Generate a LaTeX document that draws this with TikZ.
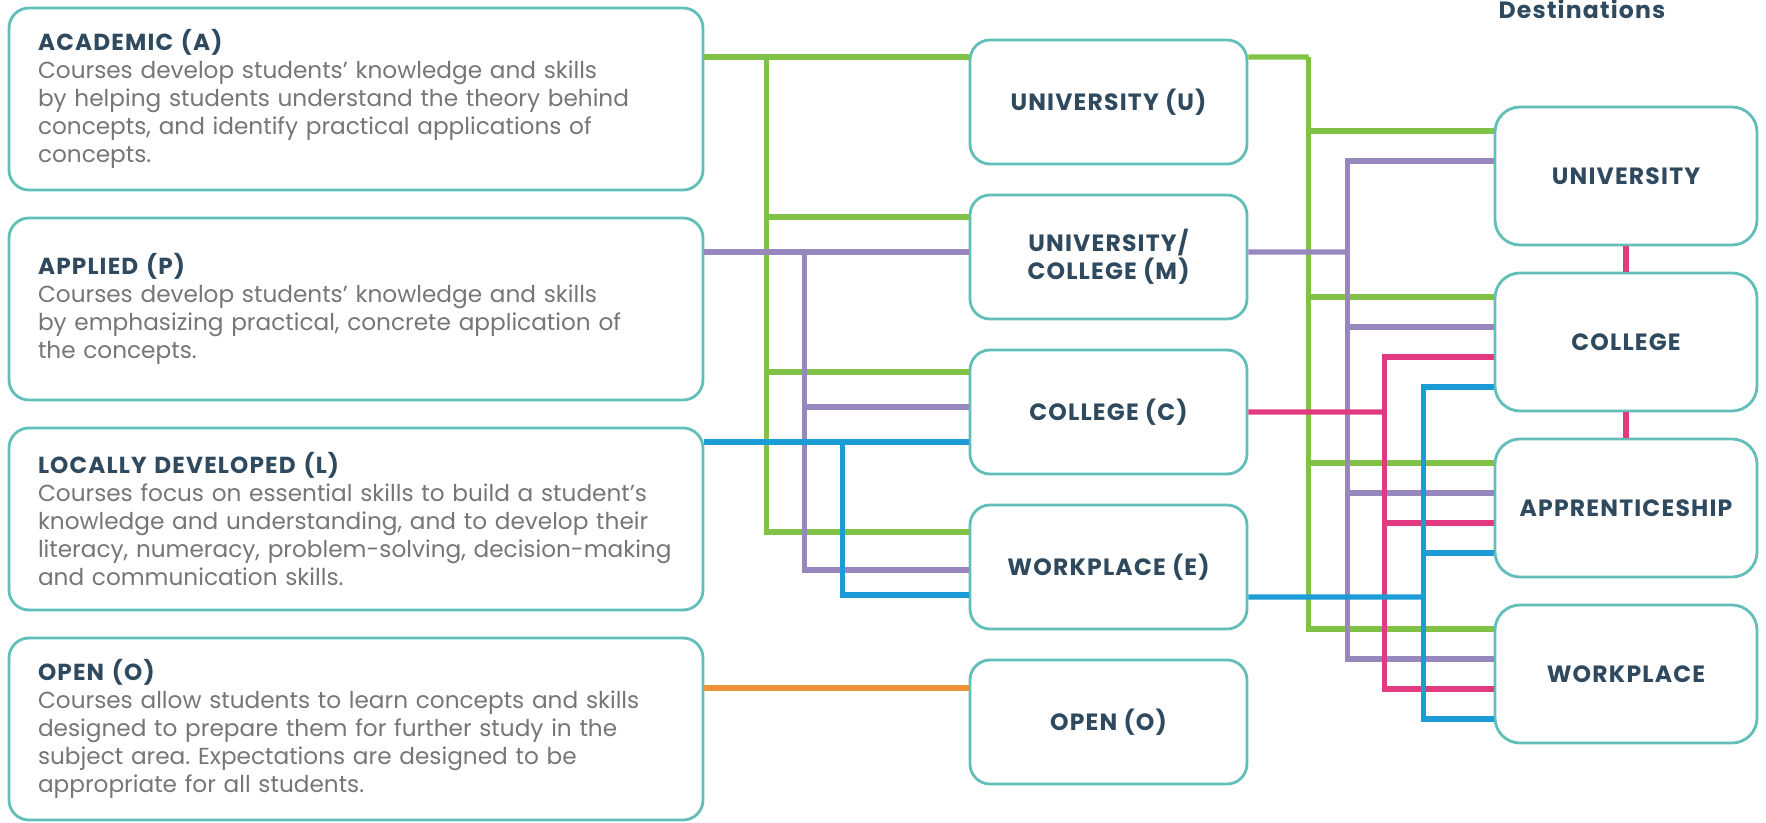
\documentclass[tikz,border=0pt]{standalone}
\usepackage{fontspec}
\setmainfont{Poppins}
\newfontfamily\labelfont{Poppins}[LetterSpace=5.0]
\usetikzlibrary{calc,positioning}
\frenchspacing
\definecolor{boxline}{RGB}{98,190,184}
\definecolor{headtext}{RGB}{47,74,94}
\definecolor{bodytext}{RGB}{118,118,120}
\definecolor{pathA}{RGB}{128,194,70}
\definecolor{pathP}{RGB}{152,134,190}
\definecolor{pathL}{RGB}{28,156,214}
\definecolor{pathC}{RGB}{226,58,128}
\definecolor{pathO}{RGB}{240,146,60}
\tikzset{
    course/.style = {draw=boxline, line width=.8pt, rounded corners=2mm, fill=white,
        minimum height=1.82cm, minimum width=6.94cm, text width=6.36cm, align=left,
        font=\fontsize{6.6}{8}\selectfont, text=bodytext},
    level/.style = {draw=boxline, line width=.8pt, rounded corners=2mm, fill=white,
        minimum height=1.24cm, minimum width=2.77cm, align=center,
        font=\labelfont\bfseries\fontsize{6.7}{8}\selectfont, text=headtext},
    dest/.style = {draw=boxline, line width=.8pt, rounded corners=2.5mm, fill=white,
        minimum height=1.38cm, minimum width=2.62cm, align=center,
        font=\labelfont\bfseries\fontsize{6.7}{8}\selectfont, text=headtext},
    link/.style = {line width=1.5pt}
}
\newcommand{\ctitle}[1]{{\labelfont\bfseries\color{headtext}#1}}

\begin{document}
\begin{tikzpicture}
        \useasboundingbox (0,0) rectangle (17.66,-8.23);
        % course types
        \node [course] (acad) at (3.56,-0.99) {\ctitle{ACADEMIC (A)}\\
            Courses develop students’ knowledge and skills\\
            by helping students understand the theory behind\\
            concepts, and identify practical applications of\\
            concepts.};
        \node [course, below of=acad, node distance=2.1cm] (appl) {\ctitle{APPLIED (P)}\\
            Courses develop students’ knowledge and skills\\
            by emphasizing practical, concrete application of\\
            the concepts.};
        \node [course, below of=appl, node distance=2.1cm] (ldev) {\ctitle{LOCALLY DEVELOPED (L)}\\
            Courses focus on essential skills to build a student’s\\
            knowledge and understanding, and to develop their\\
            literacy, numeracy, problem-solving, decision-making\\
            and communication skills.};
        \node [course, below of=ldev, node distance=2.1cm] (open) {\ctitle{OPEN (O)}\\
            Courses allow students to learn concepts and skills\\
            designed to prepare them for further study in the\\
            subject area. Expectations are designed to be\\
            appropriate for all students.};
        % course levels
        \node [level] (u) at (11.085,-1.02) {UNIVERSITY (U)};
        \node [level, below of=u, node distance=1.55cm] (m) {UNIVERSITY/\\COLLEGE (M)};
        \node [level, below of=m, node distance=1.55cm] (c) {COLLEGE (C)};
        \node [level, below of=c, node distance=1.55cm] (e) {WORKPLACE (E)};
        \node [level, below of=e, node distance=1.55cm] (o) {OPEN (O)};
        % destinations
        \node [anchor=base west, inner sep=0, font=\labelfont\bfseries\fontsize{6.7}{8}\selectfont, text=headtext] (dtitle) at (14.98,-0.19) {Destinations};
        \node [dest] (duni) at (16.26,-1.76) {UNIVERSITY};
        \node [dest, below of=duni, node distance=1.66cm] (dcol) {COLLEGE};
        \node [dest, below of=dcol, node distance=1.66cm] (dapp) {APPRENTICESHIP};
        \node [dest, below of=dapp, node distance=1.66cm] (dwork) {WORKPLACE};
        \draw [link, pathC] (duni) -- (dcol);
        \draw [link, pathC] (dcol) -- (dapp);
        % academic
        \coordinate (gin) at ([yshift=4.5mm]u.west);
        \coordinate (gL) at ($(acad.east |- gin)!.236!(gin)$);
        \draw [link, pathA] (acad.east |- gin) -- (gin);
        \draw [link, pathA] ([yshift=4mm]m.west) -| (gL);
        \draw [link, pathA] ([yshift=4mm]c.west) -| (gL);
        \draw [link, pathA] ([yshift=3.5mm]e.west) -| (gL);
        % applied
        \coordinate (pin) at ([yshift=.5mm]m.west);
        \coordinate (pL) at ($(appl.east |- pin)!.378!(pin)$);
        \draw [link, pathP] (appl.east |- pin) -- (pin);
        \draw [link, pathP] ([yshift=.5mm]c.west) -| (pL);
        \draw [link, pathP] ([yshift=-.3mm]e.west) -| (pL);
        % locally developed
        \coordinate (bin) at ([yshift=-3mm]c.west);
        \coordinate (bL) at ($(ldev.east |- bin)!.524!(bin)$);
        \draw [link, pathL] (ldev.east |- bin) -- (bin);
        \draw [link, pathL] ([yshift=-2.8mm]e.west) -| (bL);
        % open
        \coordinate (oin) at ([yshift=3.4mm]o.west);
        \draw [link, pathO] (open.east |- oin) -- (oin);
        % university (U) to destinations
        \coordinate (gout) at ([yshift=4.5mm]u.east);
        \coordinate (gR) at ($(gout)!.246!(duni.west |- gout)$);
        \draw [link, pathA] (gout) -- (gR);
        \draw [link, pathA] ([yshift=4.5mm]duni.west) -| (gR);
        \draw [link, pathA] ([yshift=4.5mm]dcol.west) -| (gR);
        \draw [link, pathA] ([yshift=4.5mm]dapp.west) -| (gR);
        \draw [link, pathA] ([yshift=4.5mm]dwork.west) -| (gR);
        % university/college (M)
        \coordinate (pout) at ([yshift=.5mm]m.east);
        \coordinate (pR) at ($(pout)!.403!(duni.west |- pout)$);
        \draw [link, pathP] (pout) -- (pR);
        \draw [link, pathP] ([yshift=1.5mm]duni.west) -| (pR);
        \draw [link, pathP] ([yshift=1.5mm]dcol.west) -| (pR);
        \draw [link, pathP] ([yshift=1.5mm]dapp.west) -| (pR);
        \draw [link, pathP] ([yshift=1.5mm]dwork.west) -| (pR);
        % college (C)
        \coordinate (kout) at (c.east);
        \coordinate (kR) at ($(kout)!.556!(duni.west |- kout)$);
        \draw [link, pathC] (kout) -- (kR);
        \draw [link, pathC] ([yshift=-1.5mm]dcol.west) -| (kR);
        \draw [link, pathC] ([yshift=-1.5mm]dapp.west) -| (kR);
        \draw [link, pathC] ([yshift=-1.5mm]dwork.west) -| (kR);
        % workplace (E)
        \coordinate (bout) at ([yshift=-3mm]e.east);
        \coordinate (bR) at ($(bout)!.714!(duni.west |- bout)$);
        \draw [link, pathL] (bout) -- (bR);
        \draw [link, pathL] ([yshift=-4.5mm]dcol.west) -| (bR);
        \draw [link, pathL] ([yshift=-4.5mm]dapp.west) -| (bR);
        \draw [link, pathL] ([yshift=-4.5mm]dwork.west) -| (bR);
\end{tikzpicture}
\end{document}
